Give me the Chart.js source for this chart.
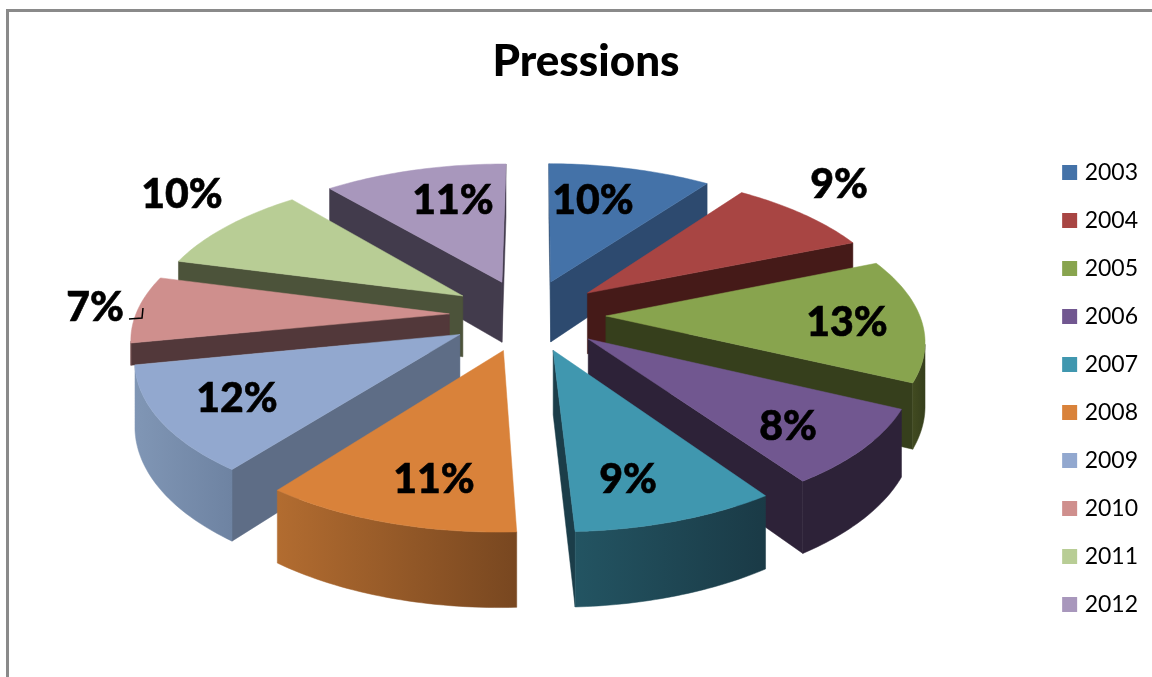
<!doctype html>
<html>
<head>
<meta charset="utf-8">
<title>Pressions</title>
<script src="https://cdn.jsdelivr.net/npm/chart.js@4"></script>
<style>
  html, body { margin: 0; padding: 0; background: #fff; }
  canvas { display: block; }
</style>
</head>
<body>
<canvas id="pie" width="1152" height="677"></canvas>
<script>
var years = ['2003', '2004', '2005', '2006', '2007', '2008', '2009', '2010', '2011', '2012'];
var pressions = [9.83, 8.8, 13.45, 8.3, 8.79, 11.05, 11.5, 7.33, 9.8, 11.06];

// couleurs du dessus, des parois radiales et du bord exterieur (gauche, droite)
var topColors = ['#4472A8', '#A84543', '#88A44E', '#715790', '#4097AF', '#D9823A', '#92A8CF', '#CF8F8D', '#B8CD95', '#A897BC'];
var innerColors = ['#2D4A6F', '#451A18', '#363F1C', '#2D2238', '#1B3D49', '#754620', '#5E6D86', '#52383A', '#4C533A', '#423B4C'];
var rimLeft = ['#2D4A6F', '#451A18', '#414A20', '#2D2238', '#235462', '#B26C30', '#8096B5', '#8A6060', '#6F8055', '#625A70'];
var rimRight = ['#2D4A6F', '#451A18', '#363F1C', '#2D2238', '#1A3A46', '#784720', '#6E83A2', '#8A6060', '#6F8055', '#625A70'];
// 2010 : la paroi ne depasse pas sous 2009
var wallDepth = [1, 1, 1, 1, 1, 1, 1, 0.35, 1, 1];

// position du texte des pourcentages
var labelX = [593, 839, 847, 788, 628, 434, 237, 95, 182, 453];
var labelY = [201, 185, 323, 427, 480, 480, 399, 308, 195, 201];

// perspective
var cx = 527.5, cy = 315, rx = 392, ry = 180, persp = 0.18, depth = 62;

function project(nx, ny, h) {
    var s = 1 / (1 - persp * ny);
    return { x: cx + rx * nx * s, y: cy + ry * ny * s + h * depth * s };
}

function fillPoly(ctx, pts, fill) {
    ctx.beginPath();
    pts.forEach(function (p, i) {
        if (i == 0) ctx.moveTo(p.x, p.y); else ctx.lineTo(p.x, p.y);
    });
    ctx.closePath();
    ctx.fillStyle = fill;
    ctx.strokeStyle = fill;
    ctx.lineWidth = 0.5;
    ctx.fill();
    ctx.stroke();
}

function wallOf(a, b, h) {
    return [project(a.nx, a.ny, 0), project(b.nx, b.ny, 0), project(b.nx, b.ny, h), project(a.nx, a.ny, h)];
}

function drawSlice(ctx, el, i) {
    var p = el.getProps(['startAngle', 'endAngle', 'outerRadius'], true);
    var off = el.options.offset;
    var total = p.outerRadius + off;
    var mid = (p.startAngle + p.endAngle) / 2;
    var ox = Math.cos(mid) * off / total, oy = Math.sin(mid) * off / total;
    var r = p.outerRadius / total;
    var apex = { nx: ox, ny: oy };
    var h = wallDepth[i];
    var rim = [];
    var steps = 36;
    for (var k = 0; k <= steps; k++) {
        var t = p.startAngle + (p.endAngle - p.startAngle) * k / steps;
        rim.push({ nx: ox + r * Math.cos(t), ny: oy + r * Math.sin(t) });
    }
    var x = function (q) { return project(q.nx, q.ny, 0).x; };

    // parois radiales, seulement celles tournees vers nous
    if (x(rim[0]) < x(apex)) fillPoly(ctx, wallOf(apex, rim[0], h), innerColors[i]);
    if (x(apex) < x(rim[steps])) fillPoly(ctx, wallOf(rim[steps], apex, h), innerColors[i]);

    // bord exterieur
    var front = rim.filter(function (q, k) {
        var prev = rim[k - 1], next = rim[k + 1];
        return (next && x(next) < x(q)) || (prev && x(q) < x(prev));
    });
    if (front.length > 1) {
        var upper = front.map(function (q) { return project(q.nx, q.ny, 0); });
        var lower = front.map(function (q) { return project(q.nx, q.ny, h); }).reverse();
        var xs = upper.map(function (q) { return q.x; });
        var g = ctx.createLinearGradient(Math.min.apply(null, xs), 0, Math.max.apply(null, xs), 0);
        g.addColorStop(0, rimLeft[i]);
        g.addColorStop(1, rimRight[i]);
        fillPoly(ctx, upper.concat(lower), g);
    }

    // dessus
    var face = [project(apex.nx, apex.ny, 0)].concat(rim.map(function (q) { return project(q.nx, q.ny, 0); }));
    fillPoly(ctx, face, topColors[i]);
}

var pie3d = {
    id: 'pie3d',
    beforeDraw: function (chart) {
        var ctx = chart.ctx;
        ctx.save();
        ctx.fillStyle = '#8A8A8A';
        ctx.fillRect(6, 9, 1146, 3);
        ctx.fillRect(6, 9, 3, 668);
        ctx.restore();
    },
    beforeDatasetsDraw: function (chart) {
        var ctx = chart.ctx;
        var arcs = chart.getDatasetMeta(0).data;
        var order = arcs.map(function (el, i) {
            return { el: el, i: i, y: Math.sin((el.startAngle + el.endAngle) / 2) };
        }).sort(function (a, b) { return a.y - b.y; });
        ctx.save();
        order.forEach(function (o) { drawSlice(ctx, o.el, o.i); });

        var total = pressions.reduce(function (a, b) { return a + b; }, 0);
        ctx.fillStyle = '#000';
        ctx.strokeStyle = '#000';
        ctx.lineWidth = 0.6;
        ctx.font = '900 41px Lato';
        ctx.textAlign = 'center';
        ctx.textBaseline = 'middle';
        pressions.forEach(function (v, i) {
            var txt = Math.round(v / total * 100) + '%';
            ctx.fillText(txt, labelX[i], labelY[i]);
            ctx.strokeText(txt, labelX[i], labelY[i]);
        });

        // trait de rappel du 7 %
        ctx.lineWidth = 1.5;
        ctx.beginPath();
        ctx.moveTo(129, 319);
        ctx.lineTo(142, 318);
        ctx.lineTo(143, 308);
        ctx.stroke();
        ctx.restore();
        return false;
    }
};

new Chart(document.getElementById('pie'), {
    type: 'pie',
    data: {
        labels: years,
        datasets: [{
            data: pressions,
            backgroundColor: topColors,
            borderWidth: 0,
            offset: 64
        }]
    },
    plugins: [pie3d],
    options: {
        responsive: false,
        animation: false,
        rotation: 0.2,
        layout: { padding: { left: 24, right: 4, top: 0, bottom: 0 } },
        plugins: {
            tooltip: { enabled: false },
            title: {
                display: true,
                text: 'Pressions',
                color: '#000',
                font: { family: 'Lato', size: 44, weight: '900' },
                padding: { top: 35, bottom: 12 }
            },
            legend: {
                position: 'right',
                fullSize: false,
                labels: {
                    color: '#000',
                    font: { family: 'Lato', size: 23 },
                    boxWidth: 7,
                    boxHeight: 7,
                    padding: 25,
                    generateLabels: function () {
                        return years.map(function (y, i) {
                            return { text: y, fillStyle: topColors[i], strokeStyle: topColors[i], lineWidth: 8, hidden: false, index: i };
                        });
                    }
                }
            }
        }
    }
});
</script>
</body>
</html>
